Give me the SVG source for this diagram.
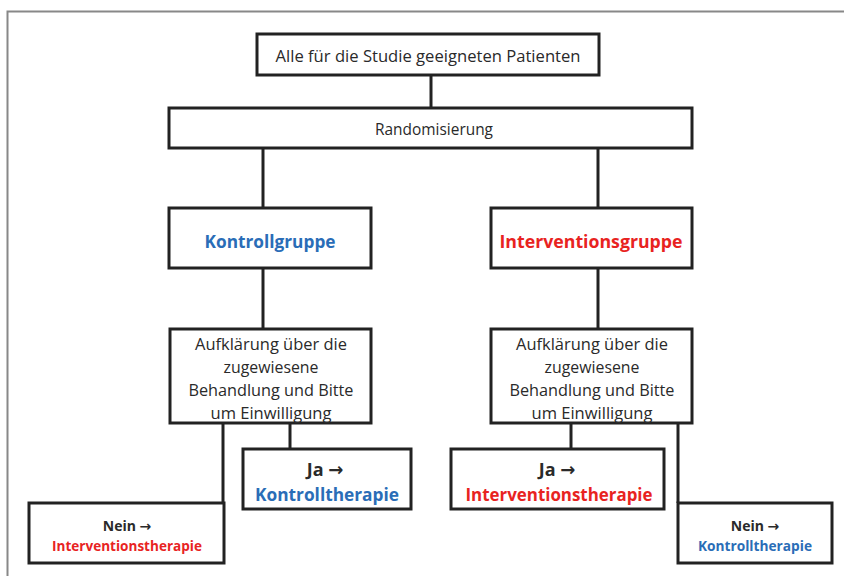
<svg xmlns="http://www.w3.org/2000/svg" width="844" height="576" viewBox="0 0 844 576">
<style>
.box{fill:#fff;stroke:#222;stroke-width:3}
.con{stroke:#222;stroke-width:3;fill:none}
text{font-family:"Open Sans","Noto Sans","DejaVu Sans",sans-serif;text-anchor:middle;fill:#2a2a2a}
.n{font-size:17px}
.b{font-weight:bold}
.blue{fill:#2a6db7}
.red{fill:#e8231f}
.ar{font-family:"DejaVu Sans",sans-serif}
</style>
<rect width="844" height="576" fill="#fff"/>
<path d="M7.5 576 V11.5 H844" fill="none" stroke="#888" stroke-width="2"/>
<g id="connectors">
<path class="con" d="M431 75 V108"/>
<path class="con" d="M263 148 V208"/>
<path class="con" d="M598 148 V208"/>
<path class="con" d="M263 268 V329"/>
<path class="con" d="M598 268 V329"/>
<path class="con" d="M223 423 V503"/>
<path class="con" d="M290 423 V449"/>
<path class="con" d="M571 423 V449"/>
<path class="con" d="M678 423 V503"/>
</g>
<g id="alle">
<rect class="box" x="257" y="34" width="342" height="41"/>
<text class="n" x="428" y="62" textLength="305" lengthAdjust="spacingAndGlyphs">Alle für die Studie geeigneten Patienten</text>
</g>
<g id="randomisierung">
<rect class="box" x="169" y="108" width="523" height="40"/>
<text class="n" x="434" y="135" font-size="16" textLength="118" lengthAdjust="spacingAndGlyphs">Randomisierung</text>
</g>
<g id="kontrollgruppe">
<rect class="box" x="169" y="208" width="202" height="60"/>
<text class="b blue" x="270" y="248" font-size="18" textLength="131" lengthAdjust="spacingAndGlyphs">Kontrollgruppe</text>
</g>
<g id="interventionsgruppe">
<rect class="box" x="491" y="208" width="201" height="60"/>
<text class="b red" x="591" y="248" font-size="18" textLength="183" lengthAdjust="spacingAndGlyphs">Interventionsgruppe</text>
</g>
<g id="aufklaerung-links">
<rect class="box" x="170" y="329" width="201" height="94"/>
<text class="n" x="271" y="350" textLength="152" lengthAdjust="spacingAndGlyphs">Aufklärung über die</text>
<text class="n" x="271" y="373" textLength="95" lengthAdjust="spacingAndGlyphs">zugewiesene</text>
<text class="n" x="271" y="396" textLength="165" lengthAdjust="spacingAndGlyphs">Behandlung und Bitte</text>
<text class="n" x="271" y="419" textLength="121" lengthAdjust="spacingAndGlyphs">um Einwilligung</text>
</g>
<g id="aufklaerung-rechts">
<rect class="box" x="491" y="329" width="201" height="94"/>
<text class="n" x="592" y="350" textLength="152" lengthAdjust="spacingAndGlyphs">Aufklärung über die</text>
<text class="n" x="592" y="373" textLength="95" lengthAdjust="spacingAndGlyphs">zugewiesene</text>
<text class="n" x="592" y="396" textLength="165" lengthAdjust="spacingAndGlyphs">Behandlung und Bitte</text>
<text class="n" x="592" y="419" textLength="121" lengthAdjust="spacingAndGlyphs">um Einwilligung</text>
</g>
<g id="ja-kontrolltherapie">
<rect class="box" x="243" y="449" width="168" height="60"/>
<text class="b" x="325" y="476" font-size="18">Ja <tspan class="ar">→</tspan></text>
<text class="b blue" x="327" y="501" font-size="18" textLength="144" lengthAdjust="spacingAndGlyphs">Kontrolltherapie</text>
</g>
<g id="ja-interventionstherapie">
<rect class="box" x="451" y="449" width="213" height="60"/>
<text class="b" x="557" y="476" font-size="18">Ja <tspan class="ar">→</tspan></text>
<text class="b red" x="559" y="501" font-size="18" textLength="187" lengthAdjust="spacingAndGlyphs">Interventionstherapie</text>
</g>
<g id="nein-interventionstherapie">
<rect class="box" x="29" y="503" width="195" height="60"/>
<text class="b" x="127" y="531" font-size="14">Nein <tspan class="ar">→</tspan></text>
<text class="b red" x="127" y="551" font-size="14" textLength="150" lengthAdjust="spacingAndGlyphs">Interventionstherapie</text>
</g>
<g id="nein-kontrolltherapie">
<rect class="box" x="678" y="503" width="154" height="60"/>
<text class="b" x="755" y="531" font-size="14">Nein <tspan class="ar">→</tspan></text>
<text class="b blue" x="755" y="551" font-size="14" textLength="114" lengthAdjust="spacingAndGlyphs">Kontrolltherapie</text>
</g>
</svg>
